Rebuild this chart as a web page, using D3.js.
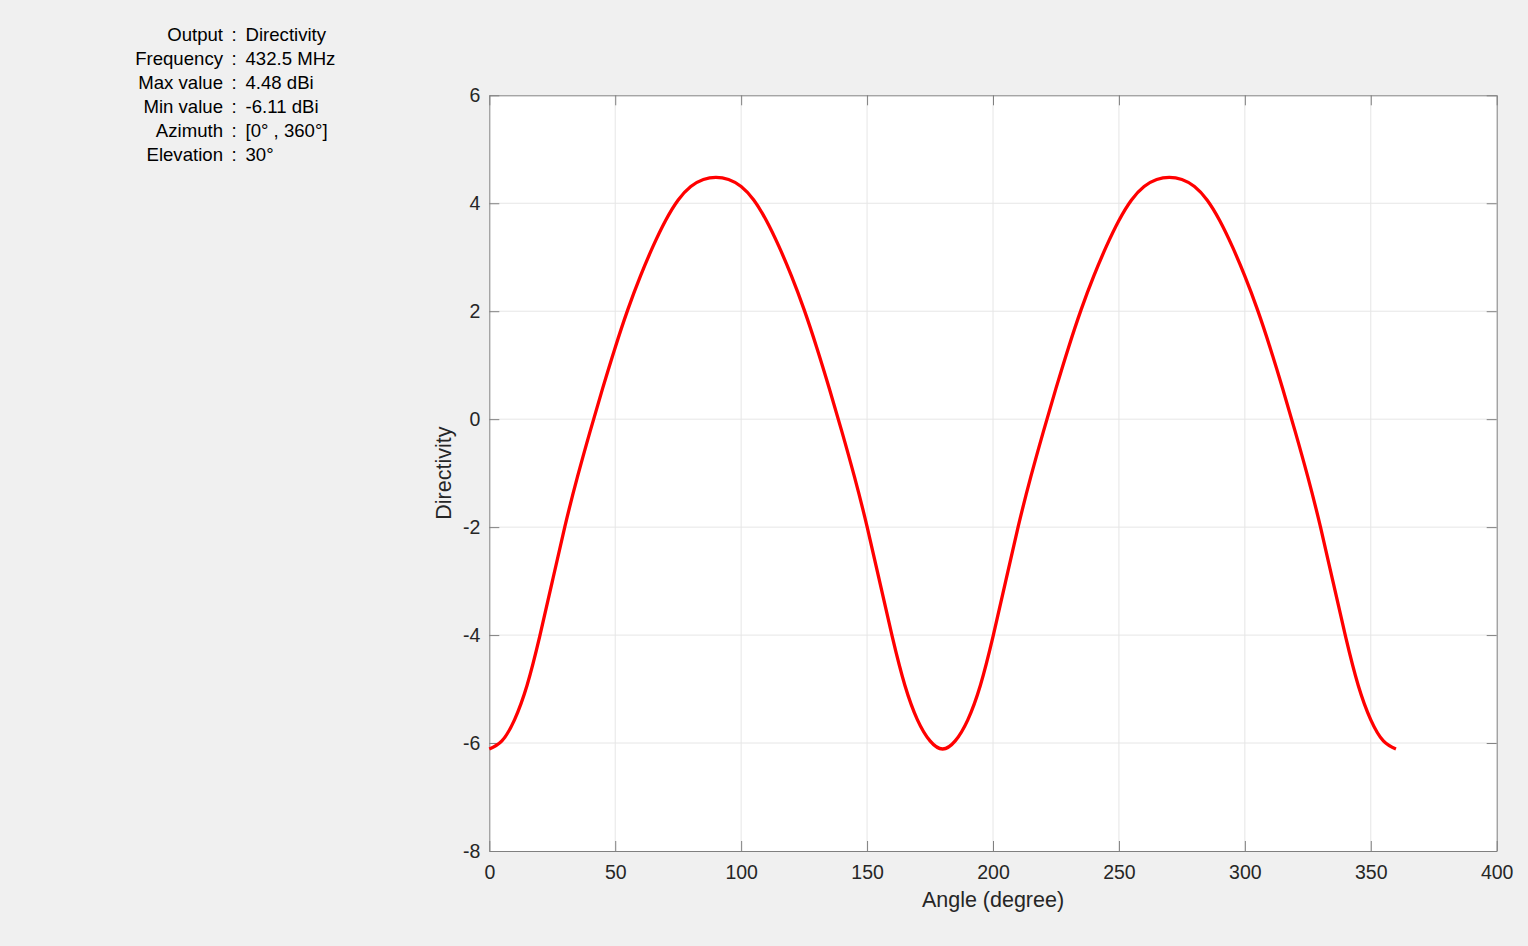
<!DOCTYPE html>
<html>
<head>
<meta charset="utf-8">
<script src="https://cdn.jsdelivr.net/npm/d3@7"></script>
<style>
  html, body { margin: 0; padding: 0; background: #f0f0f0; }
  svg { display: block; font-family: "Liberation Sans", Arial, Helvetica, sans-serif; }
</style>
</head>
<body>
<div id="chart"></div>
<script>
// directivity, every 5 degrees from 0 to 360
var angles = d3.range(0, 361, 5);
var directivity = [
  -6.11, -5.96, -5.57, -4.93, -4.03, -3.01, -1.99, -1.07, -0.23, 0.57,
   1.33,  2.03,  2.65,  3.20,  3.68,  4.06,  4.31,  4.44,  4.48,
   4.44,  4.31,  4.06,  3.68,  3.20,  2.65,  2.03,  1.33,  0.57,
  -0.23, -1.07, -1.99, -3.01, -4.03, -4.93, -5.57, -5.96, -6.11,
  -5.96, -5.57, -4.93, -4.03, -3.01, -1.99, -1.07, -0.23, 0.57,
   1.33,  2.03,  2.65,  3.20,  3.68,  4.06,  4.31,  4.44,  4.48,
   4.44,  4.31,  4.06,  3.68,  3.20,  2.65,  2.03,  1.33,  0.57,
  -0.23, -1.07, -1.99, -3.01, -4.03, -4.93, -5.57, -5.96, -6.11
];
var xTicks = [0, 50, 100, 150, 200, 250, 300, 350, 400];
var yTicks = [-8, -6, -4, -2, 0, 2, 4, 6];
var infoLabels = ["Output", "Frequency", "Max value", "Min value", "Azimuth", "Elevation"];
var infoValues = ["Directivity", "432.5 MHz", "4.48 dBi", "-6.11 dBi", "[0\u00b0 , 360\u00b0]", "30\u00b0"];

var W = 1528, H = 946;
var pL = 489.3, pR = 1496.7, pT = 95.3, pB = 851;

var svg = d3.select("#chart").append("svg")
    .attr("width", W)
    .attr("height", H);

var x = d3.scaleLinear().domain([0, 400]).range([pL, pR]);
var y = d3.scaleLinear().domain([-8, 6]).range([pB, pT]);

// white axes background
svg.append("rect")
    .attr("x", pL).attr("y", pT)
    .attr("width", pR - pL).attr("height", pB - pT)
    .attr("fill", "white");

// grid
svg.append("g").selectAll("line")
    .data(xTicks.slice(1, -1)).enter().append("line")
    .attr("x1", function(d) { return x(d); }).attr("x2", function(d) { return x(d); })
    .attr("y1", pT).attr("y2", pB)
    .style("stroke", "#e6e6e6").style("stroke-width", 1);
svg.append("g").selectAll("line")
    .data(yTicks.slice(1, -1)).enter().append("line")
    .attr("x1", pL).attr("x2", pR)
    .attr("y1", function(d) { return y(d); }).attr("y2", function(d) { return y(d); })
    .style("stroke", "#e6e6e6").style("stroke-width", 1);

// axes, ticks inside, box on all sides (plain hyphen for negatives)
var tl = 10;
var fmt = function(d) { return String(d); };
var axB = svg.append("g").attr("transform", "translate(0," + pB + ")")
    .call(d3.axisBottom(x).tickValues(xTicks).tickFormat(fmt).tickSizeInner(-tl).tickSizeOuter(0).tickPadding(14));
var axT = svg.append("g").attr("transform", "translate(0," + pT + ")")
    .call(d3.axisTop(x).tickValues(xTicks).tickSizeInner(-tl).tickSizeOuter(0).tickFormat(""));
var axL = svg.append("g").attr("transform", "translate(" + pL + ",0)")
    .call(d3.axisLeft(y).tickValues(yTicks).tickFormat(fmt).tickSizeInner(-tl).tickSizeOuter(0).tickPadding(9));
var axR = svg.append("g").attr("transform", "translate(" + pR + ",0)")
    .call(d3.axisRight(y).tickValues(yTicks).tickSizeInner(-tl).tickSizeOuter(0).tickFormat(""));

[axB, axT, axL, axR].forEach(function(g) {
    g.selectAll("path.domain").style("stroke", "#808080").style("stroke-width", 1);
    g.selectAll(".tick line").style("stroke", "#808080").style("stroke-width", 1);
    g.selectAll(".tick text")
        .style("font-size", "19.5px")
        .style("fill", "#262626")
        .style("font-family", "'Liberation Sans', Arial, Helvetica, sans-serif");
});

// curve
var line = d3.line()
    .x(function(d, i) { return x(angles[i]); })
    .y(function(d) { return y(d); })
    .curve(d3.curveNatural);

svg.append("path")
    .datum(directivity)
    .attr("d", line)
    .style("fill", "none")
    .style("stroke", "#ff0000")
    .style("stroke-width", 3.3)
    .style("stroke-linejoin", "round");

// axis labels
svg.append("text")
    .attr("x", (pL + pR) / 2)
    .attr("y", 907)
    .attr("text-anchor", "middle")
    .style("font-size", "21.5px")
    .style("fill", "#262626")
    .text("Angle (degree)");

svg.append("text")
    .attr("transform", "translate(451," + ((pT + pB) / 2) + ") rotate(-90)")
    .attr("text-anchor", "middle")
    .style("font-size", "21.5px")
    .style("fill", "#262626")
    .text("Directivity");

// info block at the top left
var info = svg.append("g");
infoLabels.forEach(function(lab, i) {
    var by = 41 + i * 24;
    info.append("text")
        .attr("x", 223).attr("y", by)
        .attr("text-anchor", "end")
        .style("font-size", "18.6px")
        .style("fill", "black")
        .text(lab);
    info.append("text")
        .attr("x", 234).attr("y", by)
        .attr("text-anchor", "middle")
        .style("font-size", "18.6px")
        .style("fill", "black")
        .text(":");
    info.append("text")
        .attr("x", 245.5).attr("y", by)
        .style("font-size", "18.6px")
        .style("fill", "black")
        .text(infoValues[i]);
});
</script>
</body>
</html>
